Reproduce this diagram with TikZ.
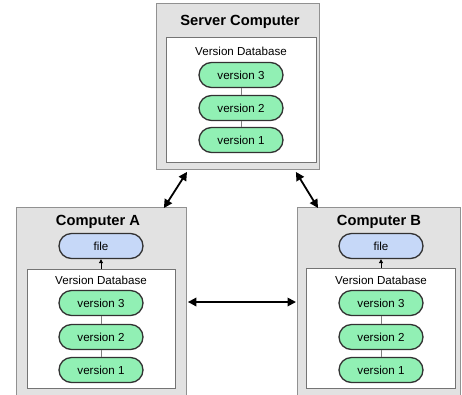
\documentclass[tikz,border=0pt]{standalone}
\usepackage{fontspec}
\setmainfont{Liberation Sans}
\usetikzlibrary{arrows.meta,calc}
\definecolor{boxgray}{RGB}{226,226,226}
\definecolor{boxedge}{RGB}{145,145,145}
\definecolor{pillgreen}{RGB}{145,240,180}
\definecolor{pillblue}{RGB}{198,216,248}
\definecolor{pilledge}{RGB}{50,50,50}
\tikzset{
  x=1pt, y=1pt,
  outerbox/.style={draw=boxedge, fill=boxgray, line width=0.9pt, anchor=north west, inner sep=0pt},
  innerbox/.style={draw=boxedge!80!black, fill=white, line width=0.9pt, anchor=north west, inner sep=0pt},
  pill/.style={draw=pilledge, line width=1.3pt, rounded corners=12.5pt, minimum width=84pt, minimum height=25pt, inner sep=0pt, font=\fontsize{11.6}{13}\selectfont},
  verpill/.style={pill, fill=pillgreen},
  filepill/.style={pill, fill=pillblue},
  title/.style={font=\fontsize{14.7}{17}\selectfont\bfseries},
  dblabel/.style={font=\fontsize{11.6}{13}\selectfont},
  link/.style={draw=gray, line width=0.8pt},
  sync/.style={line width=1.8pt, {Triangle[length=8.5pt,width=8.5pt]}-{Triangle[length=8.5pt,width=8.5pt]}},
  checkout/.style={line width=0.8pt, -{Triangle[length=4pt,width=4pt]}}
}
\begin{document}
\begin{tikzpicture}
\useasboundingbox (0,0) rectangle (462,-394);
\clip (0,0) rectangle (462,-394);

% Server computer
\node[outerbox, minimum width=163pt, minimum height=166pt] (srv) at (156,-3) {};
\node[innerbox, minimum width=150pt, minimum height=125pt] (srvdb) at (166,-37) {};
\node[title] (srvt) at (240,-22) {Server Computer};
\node[dblabel] (srvdbl) at (241,-51) {Version Database};
\node[verpill] (s3) at (241,-75) {version 3};
\node[verpill] (s2) at (241,-108) {version 2};
\node[verpill] (s1) at (241,-140) {version 1};
\draw[link] (s3) -- (s2);
\draw[link] (s2) -- (s1);

% Computer A
\node[outerbox, minimum width=170pt, minimum height=200pt] (ca) at (16,-207) {};
\node[innerbox, minimum width=148pt, minimum height=119pt] (cadb) at (27,-269) {};
\node[title] (cat) at (98,-222) {Computer A};
\node[filepill] (af) at (101,-246) {file};
\node[dblabel] (adbl) at (101,-280) {Version Database};
\node[verpill] (a3) at (101,-303) {version 3};
\node[verpill] (a2) at (101,-337) {version 2};
\node[verpill] (a1) at (101,-370) {version 1};
\draw[link] (a3) -- (a2);
\draw[link] (a2) -- (a1);
\draw[checkout] (af.south |- cadb.north) -- (af.south);

% Computer B
\node[outerbox, minimum width=163pt, minimum height=200pt] (cb) at (297,-207) {};
\node[innerbox, minimum width=149pt, minimum height=120pt] (cbdb) at (306,-268) {};
\node[title] (cbt) at (379,-222) {Computer B};
\node[filepill] (bf) at (381,-246) {file};
\node[dblabel] (bdbl) at (381,-280) {Version Database};
\node[verpill] (b3) at (381,-303) {version 3};
\node[verpill] (b2) at (381,-337) {version 2};
\node[verpill] (b1) at (381,-370) {version 1};
\draw[link] (b3) -- (b2);
\draw[link] (b2) -- (b1);
\draw[checkout] (bf.south |- cbdb.north) -- (bf.south);

% Synchronisation arrows
\draw[sync] ($(srv.south west)+(31,-2)$) -- ($(ca.north east)+(-23,-1)$);
\draw[sync] ($(srv.south east)+(-24,-2)$) -- ($(cb.north west)+(21,-1)$);
\draw[sync] ($(ca.north east)+(1,-95)$) -- ($(cb.north west)+(-1,-95)$);
\end{tikzpicture}
\end{document}
